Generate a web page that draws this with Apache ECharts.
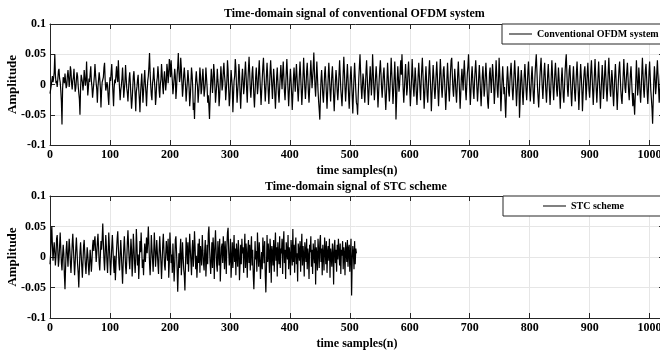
<!DOCTYPE html>
<html>
<head>
<meta charset="utf-8">
<title>Time-domain signals</title>
<script src="https://cdn.jsdelivr.net/npm/echarts@6/dist/echarts.min.js"></script>
<style>
  html, body { margin: 0; padding: 0; background: #fff; }
  #main { width: 660px; height: 351px; }
</style>
</head>
<body>
<div id="main"></div>
<script>
// amplitude samples, in units of 0.001
var ofdmSig = [
  -15, -12, -2, 6, 14, 4, 10, 20, 50, 16, 2, 6, -4, 8, 22, 26, 10, 4, -10, -28, -66, -8, 12, 8, 2, 18, 6, -6, -2, 14, 24, 12,
  -4, 8, 30, 22, 2, -8, 6, 12, 26, 4, -12, -6, 8, 20, 14, -2, -14, -24, -50, -6, 16, 10, 4, -10, 2, 24, 12, -2, 6, 38, 8, -18,
  -6, 10, 4, 18, 30, 6, -4, -22, -10, 2, 14, 34, 16, 2, -8, -30, -4, 8, 20, 10, -6, -38, -12, 4, 2, 12, 28, 36, 8, -10, -4, 4,
  -2, -20, -34, -8, 12, 6, 20, 34, 10, -14, -36, -6, 8, 2, 16, 30, 12, 4, 40, 14, -8, -26, -10, -2, 10, 28, 6, -22, -8, 4, 32, 12,
  -6, -14, -28, -8, 10, 20, 2, -20, -40, -26, -6, 14, 22, 4, -18, -44, -12, -4, 8, 16, -8, -24, -46, -16, 2, 18, -4, -30, -12, 8, 24, 2,
  -14, -36, -10, 6, 14, 30, 52, 20, -2, -18, -26, 2, 10, 28, 8, -6, -34, -20, 4, 12, 30, 16, -10, -22, 0, 8, 34, 18, -4, -16, 10, 22,
  6, -10, 4, 34, 24, 2, 18, 42, 30, 12, 40, 20, 6, -16, -4, 10, 26, 14, -24, -8, 16, 30, 52, 22, 4, 12, 44, 28, 2, -20, -6, 16,
  28, 12, -2, -28, -12, 4, 24, 10, -6, -36, -20, 2, 28, 16, -4, -42, -30, -57, -20, 8, 22, 6, -2, -30, -14, 4, 28, 14, -16, -8, 10, 26,
  6, -20, -10, 2, 28, 12, -4, -30, -18, -36, -57, -24, 2, 26, 10, -14, 4, 34, 20, -2, -30, -16, 0, 26, 8, -6, -36, -20, 6, 30, 14, -10,
  -2, 22, 36, 16, 4, -26, -10, 6, 40, 24, -8, -36, -22, 0, 24, 10, -4, -46, -20, 6, 14, 42, 28, -2, -30, -12, 4, 34, 20, -16, -40, -14,
  10, 26, 8, -16, -4, 20, 38, 16, -10, -30, 4, 26, 46, 20, -8, -22, -4, 18, 30, 6, -20, -38, -14, 12, 28, 8, -16, -4, 22, 40, 14, -10,
  -34, -12, 10, 30, 44, 18, -6, -28, -8, 16, 36, 14, -12, -32, -6, 20, 40, 18, -4, -24, 2, 26, 10, -18, -40, -14, 12, 28, 6, -16, -30, -8,
  14, 32, 12, -8, 18, 38, 14, -12, -26, -4, 20, 42, 18, -10, -36, -14, 8, 26, 6, -16, -42, -18, 10, 28, 8, -12, 14, 34, 12, -10, -28, -6,
  18, 38, 16, -10, -34, -12, 14, 44, 20, -6, -24, -4, 22, 36, 12, -14, -30, -8, 16, 40, 18, -6, 10, 28, 53, 22, -4, -20, 8, 38, 14, -10,
  -28, -42, -58, -20, 8, 24, 4, -18, -30, -8, 18, 30, 8, -16, -40, -14, 12, 36, 14, -10, -28, -6, 16, 30, 8, -20, -44, -18, 6, 24, 10, -12,
  -26, -8, 18, 40, 16, -8, -22, -36, -10, 20, 46, 22, -6, -28, -8, 14, 34, 10, -18, -40, -12, 14, 30, 6, -20, -48, -16, 12, 36, 14, -10, -30,
  -34, -50, -18, 10, 30, 50, 22, -6, -24, -4, 18, 8, -14, -30, -6, 22, 40, 14, -10, -34, -12, 10, 30, 8, -18, 4, 50, 24, -4, -26, -8, 14,
  30, 12, -10, -38, -16, 8, 26, 40, 18, -6, -22, -2, 18, 28, 6, -20, -42, -18, 8, 36, 14, -10, -28, -8, 16, 44, 20, -4, -32, -12, 12, 38,
  8, -58, -26, 4, 30, 12, -12, -2, 22, 40, 16, 50, 20, -8, -30, -10, 14, 34, 10, -18, -6, 20, 38, 16, -8, -36, -14, 10, 42, 18, -6, -20,
  4, 28, 10, -16, -34, -10, 16, 36, 14, -8, -26, 4, 26, 44, 18, -10, -40, -16, 10, 30, 8, -18, -30, -4, 22, 40, 16, -10, -44, -18, 8, 32,
  14, -8, -24, -6, 18, 38, 16, -12, -36, -10, 16, 42, 20, -6, -22, -2, 24, 30, 8, -16, -42, -18, 10, 36, 12, -10, -28, -4, 22, 40, 44, 16,
  -8, -20, 2, 26, 10, -14, -30, -8, 18, 38, 14, -12, -40, -16, 10, 26, 8, -10, 20, 40, 16, -10, -26, -4, 18, 30, 50, 22, -6, -34, -12, 14,
  30, 10, -12, -24, 4, 24, 40, 18, -6, -28, -10, 12, 32, 12, -14, -36, -10, 14, 30, 8, -20, -8, 16, 36, 14, -10, -30, -40, -12, 18, 28, 6,
  -14, 10, 34, 20, -4, -32, -12, 14, 40, 16, -10, -22, 6, 44, 20, -8, -44, -18, 8, 30, 10, -16, -4, -30, -55, -22, 8, 30, 12, -14, -20, 4,
  22, 36, 14, -10, -26, -6, 20, 40, 18, -8, -36, -14, 12, 30, 4, -55, -28, 6, 24, 8, -16, -34, -10, 16, 34, 12, -10, -26, -4, 22, 38, 14,
  -8, -28, -10, 14, 30, 8, -18, -32, -8, 18, 36, 50, 24, -4, -22, -38, -14, 12, 30, 44, 18, -6, -24, -2, 22, 36, 12, -12, -30, -8, 16, 34,
  12, -12, -34, -12, 14, 40, 18, -6, -26, -4, 20, 36, 14, -10, -20, 4, 28, 10, -16, -40, -14, 10, 28, 6, -20, -30, -6, 20, 38, 50, 20, -8,
  -20, 2, 24, 32, 10, -16, -36, -12, 12, 30, 8, -14, -28, -4, 20, 38, 14, -12, -42, -16, 10, 34, 14, -8, -44, -18, 6, 22, 30, 8, -26, -6,
  18, 36, 12, -10, -22, -2, 24, 40, 16, -10, -34, -10, 18, 42, 16, -8, -30, -8, 14, 38, 12, -14, -40, -14, 10, 32, 10, -24, -6, 18, 40, 14,
  -10, -28, -6, 22, 44, 18, -8, -20, 2, 24, 10, -18, -36, -10, 16, 34, 10, -16, -42, -16, 8, 26, 38, 14, -10, -24, -32, -8, 16, 42, 18, -6,
  -14, 6, 22, 36, 12, -12, -26, -4, 18, 30, 8, -16, -36, -14, -30, -50, -22, 8, 40, 14, -18, -6, 28, 12, -14, -30, -8, 20, 44, 18, -8, -22,
  2, 24, 34, 12, -14, -32, -8, 20, 38, 14, -10, -24, -40, -65, -28, 6, 30, 12, -16, -4, 20, 40, 16, -8, -30, -10, 14, 30, 8, -14, 4, 20
];

var stcSig = [
  -12, 4, 28, 50, 20, -6, 10, 24, 8, -14, 2, 30, 36, 12, -16, -4, 18, 40, 14, -10, -22, 2, 20, 6, -30, -53, -18, 12, 26, 4, -16, 8,
  30, 14, -10, -26, -4, 20, 38, 16, -8, -30, -10, 14, 32, 10, -12, -26, -50, -20, 8, 24, 4, -16, -34, -8, 18, 28, 6, -14, -28, -6, 16, 4,
  -14, -30, -10, 12, -4, -24, -6, 18, 28, 10, 26, 34, 14, -8, 6, 24, 38, 16, -10, -22, 2, 26, 12, 30, 55, 24, -4, -22, 4, 36, 18, -8,
  -26, 4, 40, 18, -6, -30, -8, 16, 36, 14, -12, -26, 2, -38, -14, 12, 30, 42, 16, -10, -22, 4, 28, 6, -20, -44, -12, 14, 34, 10, -16, -28,
  -6, 24, 44, 20, -4, -20, 2, 30, 12, -32, -10, 38, 16, -8, -26, -4, 46, 20, -14, 4, -36, -8, 26, 8, 40, 14, -18, -4, -30, 2, 22, -8,
  10, 32, 6, 24, 50, 20, -10, -30, -4, 36, 14, -4, -24, 6, 40, 16, -16, 2, 28, 8, -12, -28, 8, 34, 12, -8, -36, -10, 20, 38, 12, -14,
  -22, 4, 26, 10, -6, 30, -34, -10, 40, 16, -10, 4, -26, 22, -8, -40, -14, 28, 34, 8, -20, -57, -24, 6, -18, 12, 30, -30, -8, 24, 2, -20,
  -30, -55, -12, 32, 14, -12, 24, -24, 4, 38, 12, -8, -30, 12, 28, -16, 6, 42, 16, -20, 2, -34, -10, 22, -10, 30, -26, 18, 4, -14, 36, 10,
  -10, -22, 10, 28, -32, -6, 20, -12, 38, 50, 18, -8, -28, -2, 24, -18, 32, 10, -36, 18, 44, 12, -14, -24, 26, 8, -14, 30, -40, -8, 16, 22,
  -10, 34, 12, -20, 26, 6, -28, 18, 40, 48, 10, -14, -4, 30, -34, -6, 24, -18, 8, 36, -8, 14, -30, 22, 4, -16, 28, 12, -38, -10, 20, -12,
  30, 6, 16, -26, 10, 38, -18, 22, 4, -34, 14, 28, -10, 20, -22, 8, 34, -14, 12, -30, -53, -18, 26, -4, 10, -24, 40, 6, -16, 24, 2, -36,
  -10, 8, -20, 32, 12, -10, 26, -30, -58, -16, 36, -8, 22, 4, -26, 30, 10, -42, 18, 6, -14, 28, -24, 12, 40, -6, 16, -32, 24, 2, -12, 34,
  -18, 14, 6, 30, -28, 20, 42, -10, 12, -36, 24, 8, -4, 36, -20, 16, 2, -30, 28, 10, -14, 46, -8, 20, -26, 14, 32, -12, 6, -40, 22, 10,
  -6, 26, -24, 12, 38, -14, 18, 4, -32, 24, 10, -8, 30, -20, 14, 2, -36, 20, 8, 34, -16, 12, -28, 22, 6, -10, 28, -45, 16, 4, -22, 30,
  10, -18, 24, 36, -8, 14, -30, 20, 4, -22, 32, 12, -12, 26, -26, 8, 18, -6, 30, -34, 14, 2, -16, 22, 6, -45, 18, 28, -10, 12, -24, 20,
  -4, 30, 8, -14, 22, -28, 12, 2, 26, -20, 16, 6, -30, 24, 10, -8, 28, -16, 14, 20, -24, 4, 30, -63, -6, 18, 8, -20, 26, -12, 14, 6
];

var seriesNames = ['Conventional OFDM system', 'STC scheme'];
var plotTitles = ['Time-domain signal of conventional OFDM system', 'Time-domain signal of STC scheme'];

var chart = echarts.init(document.getElementById('main'));
var font = 'Liberation Serif';
var axisColor = '#262626';

function toPoints(arr) {
  return arr.map(function (v, i) { return [i, v / 1000]; });
}

function bottomAxis(g) {
  return {
    gridIndex: g, type: 'value', min: 0, max: 1024, interval: 100,
    name: 'time samples(n)', nameLocation: 'middle', nameGap: 20,
    nameTextStyle: { fontFamily: font, fontWeight: 'bold', fontSize: 12, color: '#000' },
    axisLine: { show: true, onZero: false, lineStyle: { color: axisColor, width: 1 } },
    axisTick: { show: true, inside: true, length: 5, lineStyle: { color: axisColor } },
    axisLabel: {
      fontFamily: font, fontWeight: 'bold', fontSize: 12, color: '#000', margin: 4, showMaxLabel: false,
      formatter: function (v) { return String(v); }
    },
    splitLine: { show: true, lineStyle: { color: '#e6e6e6', width: 1 } }
  };
}
function topAxis(g) {
  return {
    gridIndex: g, type: 'value', position: 'top', min: 0, max: 1024, interval: 100,
    axisLine: { show: true, onZero: false, lineStyle: { color: axisColor, width: 1 } },
    axisTick: { show: true, inside: true, length: 5, lineStyle: { color: axisColor } },
    axisLabel: { show: false }, splitLine: { show: false }
  };
}
function leftAxis(g) {
  return {
    gridIndex: g, type: 'value', min: -0.1, max: 0.1, interval: 0.05,
    name: 'Amplitude', nameLocation: 'middle', nameGap: 31, nameMoveOverlap: false,
    nameTextStyle: { fontFamily: font, fontWeight: 'bold', fontSize: 13, color: '#000' },
    axisLine: { show: true, onZero: false, lineStyle: { color: axisColor, width: 1 } },
    axisTick: { show: true, inside: true, length: 5, lineStyle: { color: axisColor } },
    axisLabel: { fontFamily: font, fontWeight: 'bold', fontSize: 12, color: '#000', margin: 4 },
    splitLine: { show: true, lineStyle: { color: '#e6e6e6', width: 1 } }
  };
}
function rightAxis(g) {
  return {
    gridIndex: g, type: 'value', position: 'right', min: -0.1, max: 0.1, interval: 0.05,
    axisLine: { show: true, onZero: false, lineStyle: { color: axisColor, width: 1 } },
    axisTick: { show: true, inside: true, length: 5, lineStyle: { color: axisColor } },
    axisLabel: { show: false }, splitLine: { show: false }
  };
}

var titleStyle = { fontFamily: font, fontWeight: 'bold', fontSize: 12, color: '#000' };
var legendBase = {
  orient: 'horizontal', icon: 'rect', itemWidth: 23, itemHeight: 1,
  backgroundColor: '#fff', borderColor: axisColor, borderWidth: 1, borderRadius: 0,
  selectedMode: false,
  textStyle: { fontFamily: font, fontWeight: 'bold', fontSize: 10, color: '#000' }
};

option = {
  backgroundColor: '#fff',
  animation: false,
  title: [
    { text: plotTitles[0], left: 219, top: 3, textStyle: titleStyle },
    { text: plotTitles[1], left: 260, top: 176, textStyle: titleStyle }
  ],
  legend: [
    Object.assign({}, legendBase, { data: [seriesNames[0]], left: 502, top: 24, padding: [5, 12, 5, 7] }),
    Object.assign({}, legendBase, { data: [seriesNames[1]], left: 503, top: 196, padding: [5, 42, 5, 40] })
  ],
  grid: [
    { left: 50, top: 24, width: 614, height: 121, outerBoundsMode: 'none', containLabel: false },
    { left: 50, top: 196, width: 614, height: 122, outerBoundsMode: 'none', containLabel: false }
  ],
  xAxis: [bottomAxis(0), bottomAxis(1), topAxis(0), topAxis(1)],
  yAxis: [leftAxis(0), leftAxis(1), rightAxis(0), rightAxis(1)],
  series: [
    {
      name: seriesNames[0], type: 'line', xAxisIndex: 0, yAxisIndex: 0,
      symbol: 'none', smooth: false,
      lineStyle: { color: '#000', width: 1.2 }, itemStyle: { color: '#000' },
      data: toPoints(ofdmSig)
    },
    {
      name: seriesNames[1], type: 'line', xAxisIndex: 1, yAxisIndex: 1,
      symbol: 'none', smooth: false,
      lineStyle: { color: '#000', width: 1.2 }, itemStyle: { color: '#000' },
      data: toPoints(stcSig)
    }
  ]
};

option && chart.setOption(option);
</script>
</body>
</html>
